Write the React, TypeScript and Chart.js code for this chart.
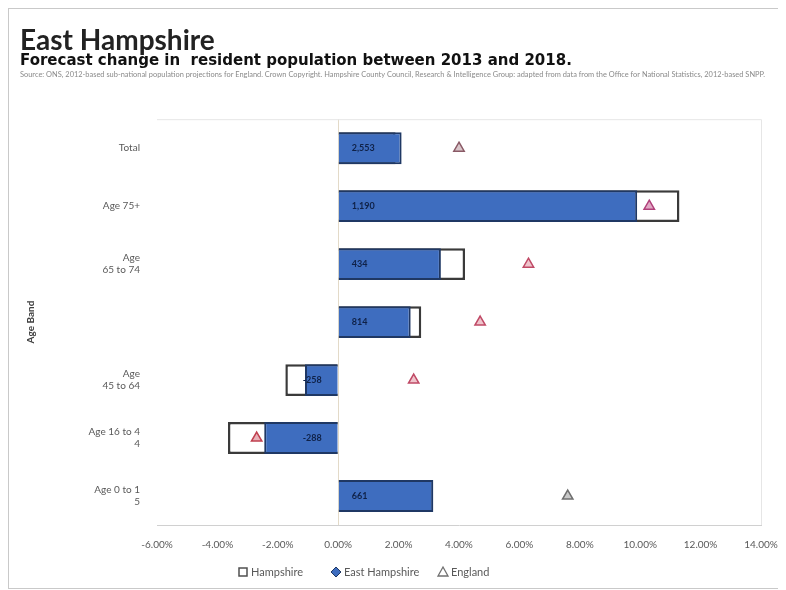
import React, { useEffect, useRef } from "react";
import { Chart, registerables } from "chart.js";

Chart.register(...registerables);

const FONT = 'Lato, "Open Sans", sans-serif';
const WIDE_FONT = '"DejaVu Sans", Verdana, sans-serif';

const titleText = "East Hampshire";
const subtitleText = "Forecast change in  resident population between 2013 and 2018.";
const sourceText =
  "Source: ONS, 2012-based sub-national population projections for England. Crown Copyright. Hampshire County Council, Research & Intelligence Group: adapted from data from the Office for National Statistics, 2012-based SNPP.";

const categories: (string | string[])[] = [
  "Total",
  "Age 75+",
  ["Age", "65 to 74"],
  "",
  ["Age", "45 to 64"],
  ["Age 16 to 4", "4"],
  ["Age 0 to 1", "5"],
];
const hampshire = [1.9, 11.3, 4.2, 2.75, -1.75, -3.65, 3.1];
const eastHampshire = [2.1, 9.9, 3.4, 2.4, -1.1, -2.45, 3.15];
const england = [4.0, 10.3, 6.3, 4.7, 2.5, -2.7, 7.6];
const eastHampshireCounts = ["2,553", "1,190", "434", "814", "-258", "-288", "661"];
const englandStroke = ["#8a5a66", "#b0407a", "#c04a66", "#c04a66", "#c04a66", "#c0404f", "#6f6f6f"];
const englandFill = ["#d9c6ca", "#e0a8c4", "#efc4cc", "#efc4cc", "#efc4cc", "#e8b0b8", "#c8c8c8"];
const seriesNames = ["Hampshire", "East Hampshire", "England"];
const axisTitle = "Age Band";

const W = 776;
const H = 579;

export default function App() {
  const ref = useRef<HTMLCanvasElement | null>(null);
  useEffect(() => {
    if (!ref.current) return;
    document.documentElement.style.overflow = "hidden";
    Chart.defaults.font.family = FONT;

    const headerPlugin = {
      id: "header",
      afterDraw(chart: any) {
        const ctx = chart.ctx;
        ctx.save();
        ctx.font = `7.6px ${FONT}`;
        ctx.fillStyle = "#8a8a8a";
        ctx.textBaseline = "middle";
        ctx.textAlign = "left";
        ctx.fillText(sourceText, 11, 66, 745);
        ctx.restore();
      },
    };

    const legendPlugin = {
      id: "customLegend",
      afterDraw(chart: any) {
        const ctx = chart.ctx;
        const y = 563;
        const anchors = [234, 327, 434];
        ctx.save();
        ctx.font = `11px ${FONT}`;
        ctx.textBaseline = "middle";
        ctx.textAlign = "left";
        seriesNames.forEach((name, i) => {
          const cx = anchors[i];
          ctx.beginPath();
          if (i === 0) {
            ctx.rect(cx - 4, y - 4, 8, 8);
            ctx.fillStyle = "#ffffff";
            ctx.strokeStyle = "#505050";
            ctx.lineWidth = 1.5;
          } else if (i === 1) {
            ctx.moveTo(cx, y - 5);
            ctx.lineTo(cx + 5, y);
            ctx.lineTo(cx, y + 5);
            ctx.lineTo(cx - 5, y);
            ctx.closePath();
            ctx.fillStyle = "#3E6DBF";
            ctx.strokeStyle = "#1F3864";
            ctx.lineWidth = 1;
          } else {
            ctx.moveTo(cx, y - 5);
            ctx.lineTo(cx + 5, y + 4);
            ctx.lineTo(cx - 5, y + 4);
            ctx.closePath();
            ctx.fillStyle = "#ffffff";
            ctx.strokeStyle = "#707070";
            ctx.lineWidth = 1.3;
          }
          ctx.fill();
          ctx.stroke();
          ctx.fillStyle = "#595959";
          ctx.fillText(name, cx + 8, y);
        });
        ctx.restore();
      },
    };

    const framePlugin = {
      id: "frame",
      beforeDatasetsDraw(chart: any) {
        const { ctx, chartArea } = chart;
        ctx.save();
        ctx.strokeStyle = "#e6e6e6";
        ctx.lineWidth = 1;
        ctx.beginPath();
        ctx.moveTo(chartArea.left, chartArea.top + 0.5);
        ctx.lineTo(chartArea.right + 0.5, chartArea.top + 0.5);
        ctx.lineTo(chartArea.right + 0.5, chartArea.bottom);
        ctx.stroke();
        ctx.restore();
      },
    };

    const labelPlugin = {
      id: "barLabels",
      afterDatasetsDraw(chart: any) {
        const ctx = chart.ctx;
        const meta = chart.getDatasetMeta(1);
        ctx.save();
        ctx.font = `bold 9px ${FONT}`;
        ctx.fillStyle = "#0f2147";
        ctx.textBaseline = "middle";
        meta.data.forEach((el: any, i: number) => {
          const v = eastHampshire[i];
          if (v >= 0) {
            ctx.textAlign = "left";
            ctx.fillText(eastHampshireCounts[i], el.base + 13, el.y);
          } else {
            ctx.textAlign = "right";
            ctx.fillText(eastHampshireCounts[i], el.base - 16, el.y);
          }
        });
        ctx.restore();
      },
    };

    const chart = new Chart(ref.current, {
      type: "bar",
      data: {
        labels: categories as any,
        datasets: [
          {
            type: "bar",
            label: seriesNames[0],
            data: hampshire,
            backgroundColor: "#ffffff",
            borderColor: "#3a3a3a",
            borderWidth: 2.5,
            barPercentage: 0.55,
            categoryPercentage: 1,
            grouped: false,
            order: 2,
            indexAxis: "y",
          } as any,
          {
            type: "bar",
            label: seriesNames[1],
            data: eastHampshire,
            backgroundColor: "#3E6DBF",
            borderColor: "#1F3864",
            borderWidth: 2,
            barPercentage: 0.55,
            categoryPercentage: 1,
            grouped: false,
            order: 1,
            indexAxis: "y",
          } as any,
          {
            type: "line",
            label: seriesNames[2],
            data: england,
            showLine: false,
            pointStyle: "triangle",
            pointRadius: 6,
            pointBorderWidth: 1.5,
            pointBackgroundColor: englandFill,
            pointBorderColor: englandStroke,
            order: 0,
            indexAxis: "y",
          } as any,
        ],
      },
      options: {
        indexAxis: "y",
        animation: false,
        responsive: false,
        layout: { padding: { left: 11, right: 1, top: 0, bottom: 37 } },
        scales: {
          x: {
            type: "linear",
            min: -6,
            max: 14,
            ticks: {
              stepSize: 2,
              padding: 14,
              color: "#595959",
              font: { size: 10, family: FONT },
              callback: (v: any) => Number(v).toFixed(2) + "%",
            },
            grid: {
              drawTicks: false,
              color: (c: any) => (c.tick && c.tick.value === 0 ? "#e3dac8" : "rgba(0,0,0,0)"),
            },
            border: { display: true, color: "#d0d0d0" },
            afterFit: (scale: any) => {
              scale.height = 26;
              scale.paddingRight = 24;
              scale.paddingLeft = 0;
            },
          },
          y: {
            type: "category",
            ticks: {
              padding: 17,
              color: "#595959",
              font: { size: 10, family: FONT },
            },
            grid: { display: false, drawTicks: false },
            border: { display: false },
            title: {
              display: true,
              text: axisTitle,
              color: "#404040",
              font: { size: 10, weight: "bold", family: FONT },
              padding: { top: 5, bottom: 0 },
            },
            afterFit: (scale: any) => {
              scale.width = 137;
            },
          },
        } as any,
        plugins: {
          title: {
            display: true,
            text: titleText,
            align: "start",
            color: "#222222",
            font: { size: 28, weight: "bold", family: FONT, lineHeight: 0.9 },
            padding: { top: 19, bottom: 0 },
          },
          subtitle: {
            display: true,
            text: subtitleText,
            align: "start",
            color: "#111111",
            font: { size: 15, weight: "bold", family: WIDE_FONT, lineHeight: 1 },
            padding: { top: 0, bottom: 51 },
          },
          legend: { display: false },
          tooltip: { enabled: false },
        },
      } as any,
      plugins: [headerPlugin, framePlugin, labelPlugin, legendPlugin],
    });
    return () => chart.destroy();
  }, []);

  return (
    <div style={{ width: W, height: H, border: "1px solid #c9c9c9" }}>
      <canvas ref={ref} width={W} height={H} style={{ display: "block", width: W, height: H }} />
    </div>
  );
}
